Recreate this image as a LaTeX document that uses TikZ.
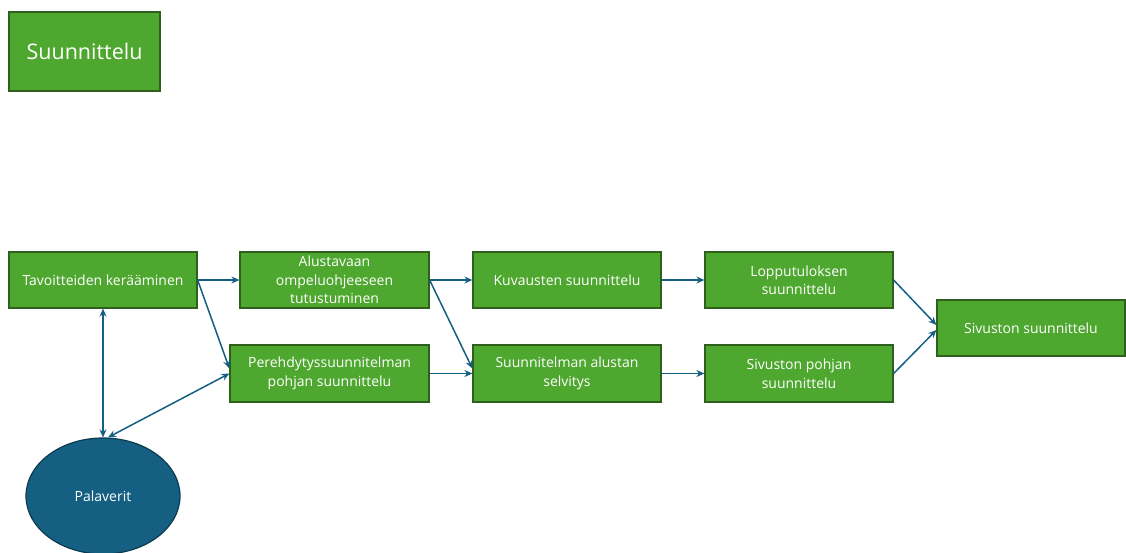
\documentclass[tikz,border=0pt]{standalone}
\usepackage{fontspec}
\setmainfont{Open Sans}
\usetikzlibrary{calc,arrows.meta,shapes.geometric}
\definecolor{boxgreen}{HTML}{4EA72E}
\definecolor{boxedge}{HTML}{2F5F1C}
\definecolor{arrowblue}{HTML}{156082}
\definecolor{elledge}{HTML}{0C3A50}
\tikzset{
  stepbox/.style={draw=boxedge, line width=1.2pt, fill=boxgreen, text=white, align=center,
    inner sep=0pt, font=\fontsize{14}{18.5}\selectfont},
  conn/.style={draw=arrowblue, line width=1.5pt, -{Stealth[length=8pt,width=7pt]}},
  dconn/.style={draw=arrowblue, line width=1.5pt, {Stealth[length=8pt,width=7pt]}-{Stealth[length=8pt,width=7pt]}},
}
\begin{document}
\begin{tikzpicture}[x=1pt,y=-1pt]
\useasboundingbox (0,0) rectangle (1126,552);
\node[stepbox, minimum width=151pt, minimum height=79pt, font=\fontsize{21.5}{25}\selectfont] (title) at (84.5,51.5) {Suunnittelu};
\node[stepbox, minimum width=188pt, minimum height=56pt] (tav) at (103,280) {Tavoitteiden kerääminen};
\node[stepbox, minimum width=189pt, minimum height=56pt] (alu) at (334.5,280) {Alustavaan\\ompeluohjeeseen\\tutustuminen};
\node[stepbox, minimum width=199pt, minimum height=57pt] (per) at (329.5,373.5) {Perehdytyssuunnitelman\\pohjan suunnittelu};
\node[stepbox, minimum width=188pt, minimum height=56pt] (kuv) at (567,280) {Kuvausten suunnittelu};
\node[stepbox, minimum width=188pt, minimum height=57pt] (sel) at (567,373.5) {Suunnitelman alustan\\selvitys};
\node[stepbox, minimum width=188pt, minimum height=56pt] (lop) at (799,280) {Lopputuloksen\\suunnittelu};
\node[stepbox, minimum width=188pt, minimum height=57pt] (spo) at (799,373.5) {Sivuston pohjan\\suunnittelu};
\node[stepbox, minimum width=188pt, minimum height=56pt] (siv) at (1031,328) {Sivuston suunnittelu};
\node[ellipse, draw=elledge, line width=1.2pt, fill=arrowblue, text=white, minimum width=154pt, minimum height=116pt, inner sep=0pt, font=\fontsize{14}{17}\selectfont] (pal) at (103,496) {Palaverit};

\draw[conn] (tav.east) -- (alu.west);
\draw[conn] (tav.east) -- ($(per.west)+(0,-5)$);
\draw[dconn] (tav.south) -- (pal.north);
\draw[dconn] ($(pal.north)+(5,0)$) -- (per.west);
\draw[conn] (alu.east) -- (kuv.west);
\draw[conn] (alu.east) -- ($(sel.west)+(0,-5)$);
\draw[conn] (per.east) -- (sel.west);
\draw[conn] (kuv.east) -- (lop.west);
\draw[conn] (sel.east) -- (spo.west);
\draw[conn] (lop.east) -- ($(siv.west)+(0,-3)$);
\draw[conn] (spo.east) -- ($(siv.west)+(0,2)$);
\end{tikzpicture}
\end{document}
